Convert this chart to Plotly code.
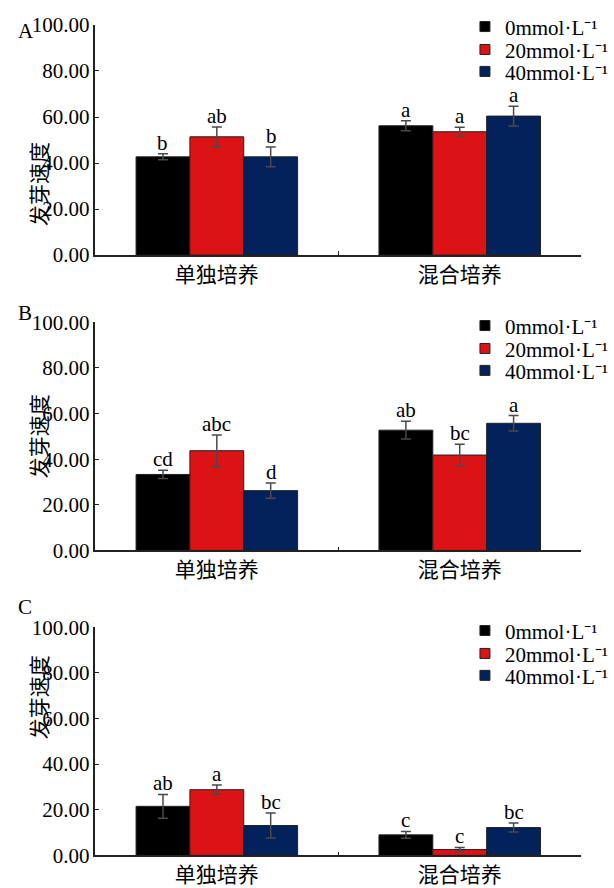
import plotly.graph_objects as go

# ---- data ----
categories = ["单独培养", "混合培养"]
series_names = ["0mmol·L⁻¹", "20mmol·L⁻¹", "40mmol·L⁻¹"]
series_colors = ["#000000", "#DC1315", "#03215A"]
panel_labels = ["A", "B", "C"]
y_title = "发芽速度"

# panel A: rows = series (0, 20, 40 mmol/L), columns = categories
a_values = [[42.7, 56.2], [51.4, 53.6], [42.7, 60.4]]
a_errors = [[1.3, 2.2], [4.3, 2.0], [4.3, 4.3]]
a_letters = [["b", "a"], ["ab", "a"], ["b", "a"]]

# panel B
b_values = [[33.3, 52.7], [43.7, 41.8], [26.2, 55.7]]
b_errors = [[1.8, 3.9], [6.9, 4.7], [3.3, 3.4]]
b_letters = [["cd", "ab"], ["abc", "bc"], ["d", "a"]]

# panel C
c_values = [[21.5, 9.0], [28.8, 2.6], [13.1, 12.2]]
c_errors = [[5.2, 1.5], [2.0, 0.9], [5.5, 2.0]]
c_letters = [["ab", "c"], ["a", "c"], ["bc", "bc"]]

y_ticks = [0, 20, 40, 60, 80, 100]

# ---- layout geometry (pixels) ----
W, H = 614, 888
x_dom = [96 / W, 585 / W]
y_doms = [[1 - 256 / H, 1 - 25 / H],
          [1 - 552.3 / H, 1 - 323.3 / H],
          [1 - 858.3 / H, 1 - 629.3 / H]]
legend_rows = [[27, 50, 72], [327, 350, 372], [633, 656, 678]]
letter_pos = [(16, 17), (16, 314), (16, 623)]
title_x = 21
bargap = 0.335
serif = "Liberation Serif, Times New Roman, serif"
cjk = "Noto Sans CJK SC, sans-serif"

axis_px = (x_dom[1] - x_dom[0]) * W
bar_px = axis_px / len(categories) * (1 - bargap) / len(series_names)

panels = [
    (a_values, a_errors, a_letters),
    (b_values, b_errors, b_letters),
    (c_values, c_errors, c_letters),
]

fig = go.Figure()
annotations = []
layout = {}
leg_idx = 0

for p, (vals, errs, lets) in enumerate(panels):
    sfx = "" if p == 0 else str(p + 1)
    xa, ya = "x" + sfx, "y" + sfx
    for s, name in enumerate(series_names):
        leg_idx += 1
        leg = "legend" if leg_idx == 1 else "legend" + str(leg_idx)
        fig.add_trace(go.Bar(
            x=categories, y=vals[s], xaxis=xa, yaxis=ya,
            name=name, showlegend=False,
            marker=dict(color=series_colors[s], line=dict(color="#222", width=1)),
            error_y=dict(type="data", array=errs[s], color="#4a4a4a",
                         thickness=1.5, width=5),
        ))
        # legend entry with a small square symbol (one legend per row)
        fig.add_trace(go.Scatter(
            x=[None], y=[None], xaxis=xa, yaxis=ya, mode="markers",
            name=name, legend=leg, showlegend=True,
            marker=dict(symbol="square", size=10, color=series_colors[s],
                        line=dict(color="#222", width=1)),
        ))
        layout[leg] = dict(
            x=468 / W, y=1 - legend_rows[p][s] / H,
            xanchor="left", yanchor="middle",
            bgcolor="rgba(0,0,0,0)", borderwidth=0,
            font=dict(family=serif, size=21, color="#000"),
            itemwidth=30,
        )
        # significance letters above the error bars
        for c, cat in enumerate(categories):
            annotations.append(dict(
                x=cat, y=vals[s][c] + errs[s][c], xref=xa, yref=ya,
                text=lets[s][c], showarrow=False, yanchor="bottom",
                xshift=(s - 1) * bar_px, yshift=-3,
                font=dict(family=serif, size=21, color="#000"),
            ))
    layout["xaxis" + sfx] = dict(
        domain=x_dom, anchor=ya, type="category",
        showline=True, linecolor="#222", linewidth=1.5,
        ticks="inside", tickson="boundaries", ticklen=4, tickcolor="#222",
        tickfont=dict(family=cjk, size=21, color="#000"),
        showgrid=False, zeroline=False, fixedrange=True,
    )
    layout["yaxis" + sfx] = dict(
        domain=y_doms[p], anchor=xa, range=[0, 100],
        tickvals=y_ticks, tickformat=".2f",
        showline=True, linecolor="#222", linewidth=1.5,
        ticks="inside", ticklen=4, tickcolor="#222",
        tickfont=dict(family=serif, size=21, color="#000"),
        showgrid=False, zeroline=False, automargin=False,
    )
    # vertical axis title
    annotations.append(dict(
        x=title_x / W, y=sum(y_doms[p]) / 2, xref="paper", yref="paper",
        text=y_title, textangle=-90, showarrow=False,
        font=dict(family=cjk, size=21, color="#000"),
    ))
    # panel letter
    lx, ly = letter_pos[p]
    annotations.append(dict(
        x=lx / W, y=1 - ly / H, xref="paper", yref="paper",
        text=panel_labels[p], showarrow=False,
        font=dict(family=serif, size=21, color="#000"),
    ))

fig.update_layout(
    width=W, height=H,
    margin=dict(l=0, r=0, t=0, b=0),
    paper_bgcolor="white", plot_bgcolor="white",
    barmode="group", bargap=bargap, bargroupgap=0,
    annotations=annotations,
    **layout,
)

fig.write_html("out.html")
